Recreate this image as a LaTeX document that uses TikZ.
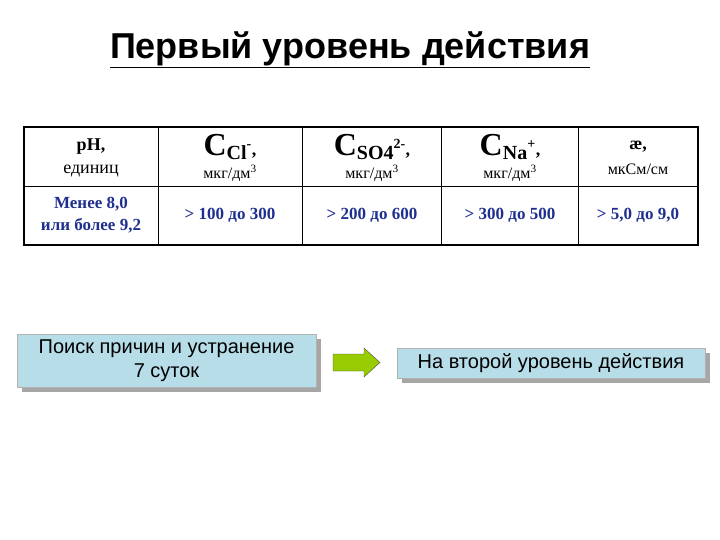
\documentclass[tikz,border=0pt]{standalone}
\usepackage{fontspec}
\setmainfont{Liberation Serif}
\newfontfamily\arial{Liberation Sans}
\definecolor{boxfill}{HTML}{B7DDE8}
\definecolor{valblue}{HTML}{1F2F8F}
\definecolor{arrgreen}{HTML}{99CC00}
\tikzset{
 hd/.style={align=center,font=\fontsize{18}{22}\selectfont,inner sep=0},
 val/.style={align=center,font=\bfseries\fontsize{17}{22}\selectfont,text=valblue,inner sep=0},
 bx/.style={draw=gray!60,fill=boxfill,align=center,font=\arial\fontsize{20}{24}\selectfont,inner sep=0},
 shad/.style={fill=gray!70,draw=none}
}
\begin{document}
\begin{tikzpicture}[x=1pt,y=-1pt]
\useasboundingbox (0,0) rectangle (720,540);
\node[font=\arial\bfseries\fontsize{36}{40}\selectfont] (title) at (350,50) {\underline{Первый уровень действия}};
\draw[line width=1.2pt] (24,127) rectangle (698,245);
\draw (24,186) -- (698,186);
\foreach \x in {158,302,441,578} \draw (\x,127) -- (\x,245);
\node[hd] (h1) at (91,158) {\textbf{pH,}\\[1pt]единиц};
\node[hd] (h2) at (230,158) {\textbf{{\fontsize{32}{32}\selectfont C}{\fontsize{20}{20}\selectfont\raisebox{-4pt}{Cl}\textsuperscript{-}},}\\[1pt]{\fontsize{16}{16}\selectfont мкг/дм\textsuperscript{3}}};
\node[hd] (h3) at (372,158) {\textbf{{\fontsize{32}{32}\selectfont C}{\fontsize{20}{20}\selectfont\raisebox{-4pt}{SO4}\textsuperscript{2-}},}\\[1pt]{\fontsize{16}{16}\selectfont мкг/дм\textsuperscript{3}}};
\node[hd] (h4) at (510,158) {\textbf{{\fontsize{32}{32}\selectfont C}{\fontsize{20}{20}\selectfont\raisebox{-4pt}{Na}\textsuperscript{+}},}\\[1pt]{\fontsize{16}{16}\selectfont мкг/дм\textsuperscript{3}}};
\node[hd] (h5) at (638,158) {\textbf{æ,}\\[3pt]{\fontsize{16}{16}\selectfont мкСм/см}};
\node[val] (v1) at (91,215) {Менее 8,0\\или более 9,2};
\node[val] (v2) at (230,215) {> 100 до 300};
\node[val] (v3) at (372,215) {> 200 до 600};
\node[val] (v4) at (510,215) {> 300 до 500};
\node[val] (v5) at (638,215) {> 5,0 до 9,0};
\fill[shad] (22,339) rectangle (321,392);
\node[bx,minimum width=299,minimum height=53] (b1) at (166.5,360.5) {Поиск причин и устранение\\7 суток};
\fill[shad] (402,353) rectangle (710,383);
\node[bx,minimum width=308,minimum height=30] (b2) at (551,363) {На второй уровень действия};
\draw[draw=black!70,fill=arrgreen] (333,354) -- (364,354) -- (364,348) -- (380,362.5) -- (364,377) -- (364,371) -- (333,371) -- cycle;
\end{tikzpicture}
\end{document}
